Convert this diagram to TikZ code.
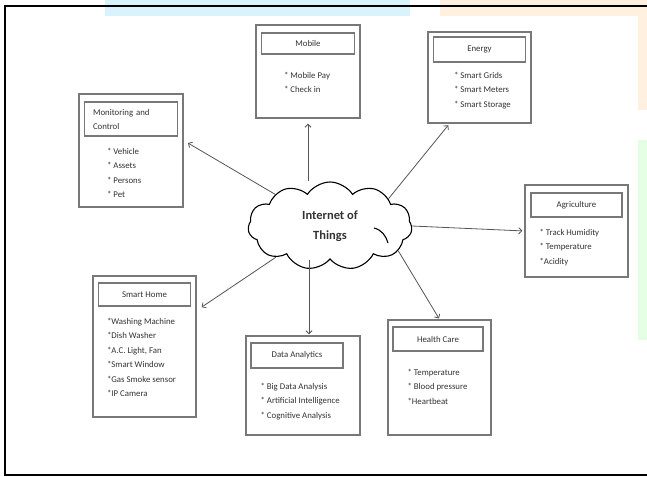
\documentclass[tikz,border=0pt]{standalone}
\usepackage{fontspec}
\setmainfont{Carlito}
\definecolor{boxgray}{RGB}{120,120,120}
\definecolor{linegray}{RGB}{85,85,85}
\definecolor{textgray}{RGB}{50,50,50}
\usetikzlibrary{
  arrows.meta,
  positioning,
  shapes.symbols,
}
\tikzset{
  >=Straight Barb[],
  panel/.style={draw=boxgray,line width=1.3pt,rectangle,inner sep=0pt},
  titlebox/.style={draw=boxgray,line width=1.3pt,rectangle,inner sep=3pt,text=textgray,font=\fontsize{8.8}{14}\selectfont},
  itemlist/.style={align=left,inner sep=0pt,text=textgray,font=\fontsize{8.8}{14.5}\selectfont},
  link/.style={draw=linegray,line width=0.8pt},
}

\begin{document}
\begin{tikzpicture}[x=1pt,y=-1pt]
        \useasboundingbox (0,0) rectangle (647,476);

        % faint watermark behind the figure
        \fill[cyan!15]   (105,0) rectangle (410,16);
        \fill[orange!12] (440,0) rectangle (647,16);
        \fill[orange!12] (638,0) rectangle (647,110);
        \fill[green!10]  (638,140) rectangle (647,340);
        \draw[black,line width=1.2pt] (647,6) -- (5,6) -- (5,475) -- (647,475);

        % centre
        \node[cloud,draw=black,line width=1.1pt,cloud puffs=11,cloud puff arc=115,aspect=1.85,minimum width=164pt,minimum height=88pt,inner sep=0pt,align=center,text=textgray,font=\fontsize{12.5}{20}\selectfont\bfseries]    (iot) at (330,226)    {Internet of\\Things};
        \draw[black,line width=1.1pt] (374,228) .. controls (382,230) and (386,236) .. (388,243);

        % outer boxes
        \node[panel,minimum width=104,minimum height=93]    (mob) at (308,71.5)    {};
        \node[panel,minimum width=103,minimum height=91]    (eng) at (479.5,77.5)  {};
        \node[panel,minimum width=104,minimum height=113]   (mon) at (131,150.5)   {};
        \node[panel,minimum width=103,minimum height=92]    (agr) at (576.5,231)   {};
        \node[panel,minimum width=103,minimum height=141]   (home) at (144.5,346.5) {};
        \node[panel,minimum width=114,minimum height=99]    (dat) at (303,385.5)   {};
        \node[panel,minimum width=103,minimum height=115]   (hc) at (439.5,377.5)  {};

        % title boxes
        \node[titlebox,minimum width=93,minimum height=21]    (mobt) [below=8pt of mob.north]    {Mobile};
        \node[titlebox,minimum width=92,minimum height=25]    (engt) [below=5pt of eng.north]    {Energy};
        \node[titlebox,minimum width=93,minimum height=34,text width=76pt,align=left]    (mont) [below=8pt of mon.north]    {Monitoring and\\Control};
        \node[titlebox,minimum width=91,minimum height=24]    (agrt) [below=8pt of agr.north]    {Agriculture};
        \node[titlebox,minimum width=92,minimum height=23]    (homet) [below=7pt of home.north]  {Smart Home};
        \node[titlebox,minimum width=92,minimum height=25,xshift=-6pt]    (datt) [below=7pt of dat.north]    {Data Analytics};
        \node[titlebox,minimum width=90,minimum height=24,xshift=-1.5pt]  (hct) [below=7pt of hc.north]      {Health Care};

        % item lists
        \node[itemlist]    (mobi) [below right=17pt and 23pt of mobt.south west]    {* Mobile Pay\\* Check in};
        \node[itemlist]    (engi) [below right=9pt and 21pt of engt.south west]     {* Smart Grids\\* Smart Meters\\* Smart Storage};
        \node[itemlist]    (moni) [below right=11pt and 23pt of mont.south west]    {* Vehicle\\* Assets\\* Persons\\* Pet};
        \node[itemlist]    (agri) [below right=11pt and 9pt of agrt.south west]     {* Track Humidity\\* Temperature\\*Acidity};
        \node[itemlist]    (homei) [below right=11pt and 9pt of homet.south west]   {*Washing Machine\\*Dish Washer\\*A.C. Light, Fan\\*Smart Window\\*Gas Smoke sensor\\*IP Camera};
        \node[itemlist]    (dati) [below right=14pt and 10pt of datt.south west]    {* Big Data Analysis\\* Artificial Intelligence\\* Cognitive Analysis};
        \node[itemlist]    (hci) [below right=17pt and 15pt of hct.south west]      {* Temperature\\* Blood pressure\\*Heartbeat};

        % connectors
        \draw[link,->,shorten >=5pt] (iot.north -| mob.south) -- (mob.south);
        \draw[link,->,shorten >=2pt] (iot.25) -- ([xshift=-30pt]eng.south);
        \draw[link,->,shorten >=5pt] (iot.150) -- ([yshift=10pt]mon.east);
        \draw[link,->,shorten >=2pt] (iot.east) -- (agr.west);
        \draw[link,->,shorten >=6pt] (iot.210) -- ([yshift=36pt]home.east);
        \draw[link,->,shorten >=1pt] (iot.south -| dat.north) ++(6pt,0) -- ([xshift=6pt]dat.north);
        \draw[link,->,shorten >=1pt] (iot.-20) -- (hc.north);

    \end{tikzpicture}
\end{document}
